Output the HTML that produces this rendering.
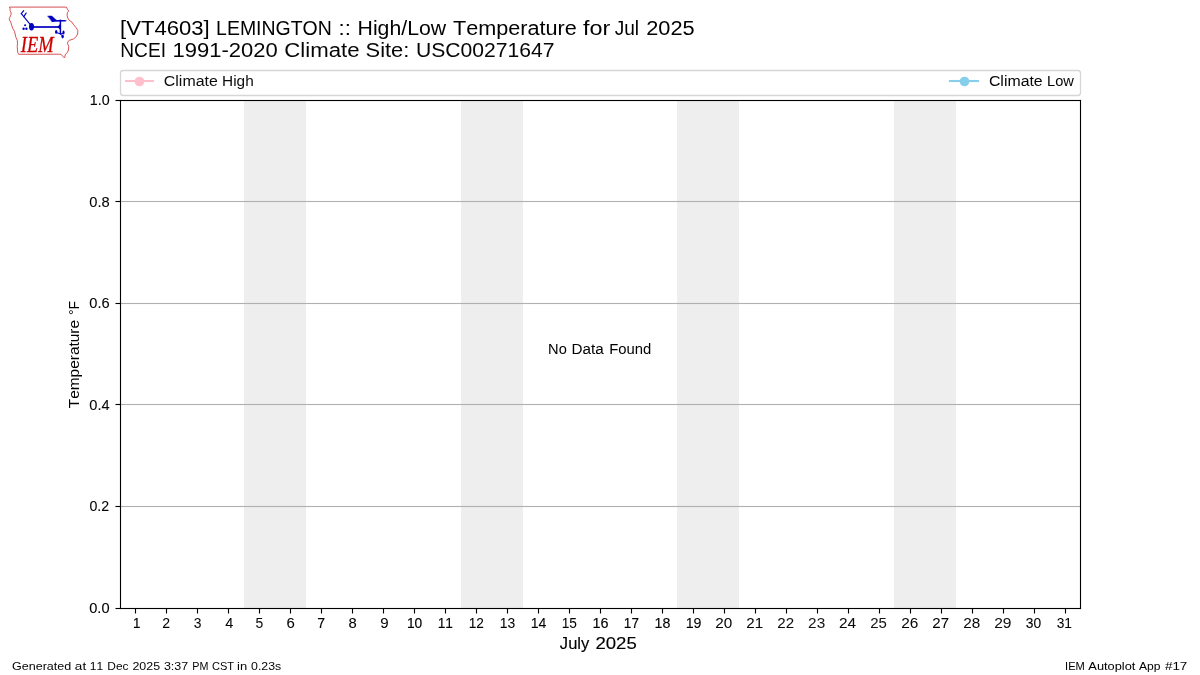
<!DOCTYPE html>
<html lang="en"><head><meta charset="utf-8"><title>[VT4603] LEMINGTON :: High/Low Temperature for Jul 2025</title>
<style>
html,body{margin:0;padding:0;background:#fff}
body{width:1200px;height:675px;position:relative;overflow:hidden;font-family:"Liberation Sans",sans-serif;color:#000}
svg{position:absolute;left:0;top:0}
#labels{position:absolute;left:0;top:0;width:1200px;height:675px;will-change:transform}
.t{position:absolute;left:0;top:0;white-space:pre;line-height:1;font-kerning:none;color:#000;transform-origin:0 0}
.t span{display:inline-block;white-space:pre;transform-origin:0 0}
#iem{position:absolute;white-space:pre;line-height:1;transform-origin:0 0;font-family:"Liberation Serif",serif;font-style:italic;color:#cc0000}
</style></head><body>
<svg width="1200" height="675" viewBox="0 0 1200 675">
<rect x="244" y="100.5" width="62" height="508" fill="#eeeeee"/>
<rect x="461" y="100.5" width="62" height="508" fill="#eeeeee"/>
<rect x="677" y="100.5" width="62" height="508" fill="#eeeeee"/>
<rect x="894" y="100.5" width="62" height="508" fill="#eeeeee"/>
<rect x="120.5" y="200.945" width="960" height="1.11" fill="#b0b0b0"/>
<rect x="120.5" y="302.945" width="960" height="1.11" fill="#b0b0b0"/>
<rect x="120.5" y="403.945" width="960" height="1.11" fill="#b0b0b0"/>
<rect x="120.5" y="505.945" width="960" height="1.11" fill="#b0b0b0"/>
<rect x="119.95" y="99.945" width="961.10" height="1.11" fill="#000"/>
<rect x="119.95" y="607.945" width="961.10" height="1.11" fill="#000"/>
<rect x="119.945" y="99.95" width="1.11" height="509.10" fill="#000"/>
<rect x="1079.945" y="99.95" width="1.11" height="509.10" fill="#000"/>
<rect x="134.945" y="608.50" width="1.11" height="5.00" fill="#000"/>
<rect x="165.945" y="608.50" width="1.11" height="5.00" fill="#000"/>
<rect x="196.945" y="608.50" width="1.11" height="5.00" fill="#000"/>
<rect x="227.945" y="608.50" width="1.11" height="5.00" fill="#000"/>
<rect x="258.945" y="608.50" width="1.11" height="5.00" fill="#000"/>
<rect x="289.945" y="608.50" width="1.11" height="5.00" fill="#000"/>
<rect x="320.945" y="608.50" width="1.11" height="5.00" fill="#000"/>
<rect x="351.945" y="608.50" width="1.11" height="5.00" fill="#000"/>
<rect x="382.945" y="608.50" width="1.11" height="5.00" fill="#000"/>
<rect x="413.945" y="608.50" width="1.11" height="5.00" fill="#000"/>
<rect x="444.945" y="608.50" width="1.11" height="5.00" fill="#000"/>
<rect x="475.945" y="608.50" width="1.11" height="5.00" fill="#000"/>
<rect x="506.945" y="608.50" width="1.11" height="5.00" fill="#000"/>
<rect x="537.945" y="608.50" width="1.11" height="5.00" fill="#000"/>
<rect x="568.945" y="608.50" width="1.11" height="5.00" fill="#000"/>
<rect x="599.945" y="608.50" width="1.11" height="5.00" fill="#000"/>
<rect x="630.945" y="608.50" width="1.11" height="5.00" fill="#000"/>
<rect x="661.945" y="608.50" width="1.11" height="5.00" fill="#000"/>
<rect x="692.945" y="608.50" width="1.11" height="5.00" fill="#000"/>
<rect x="723.945" y="608.50" width="1.11" height="5.00" fill="#000"/>
<rect x="754.945" y="608.50" width="1.11" height="5.00" fill="#000"/>
<rect x="785.945" y="608.50" width="1.11" height="5.00" fill="#000"/>
<rect x="816.945" y="608.50" width="1.11" height="5.00" fill="#000"/>
<rect x="847.945" y="608.50" width="1.11" height="5.00" fill="#000"/>
<rect x="878.945" y="608.50" width="1.11" height="5.00" fill="#000"/>
<rect x="909.945" y="608.50" width="1.11" height="5.00" fill="#000"/>
<rect x="940.945" y="608.50" width="1.11" height="5.00" fill="#000"/>
<rect x="971.945" y="608.50" width="1.11" height="5.00" fill="#000"/>
<rect x="1002.945" y="608.50" width="1.11" height="5.00" fill="#000"/>
<rect x="1033.945" y="608.50" width="1.11" height="5.00" fill="#000"/>
<rect x="1064.945" y="608.50" width="1.11" height="5.00" fill="#000"/>
<rect x="115.50" y="99.945" width="5.00" height="1.11" fill="#000"/>
<rect x="115.50" y="200.945" width="5.00" height="1.11" fill="#000"/>
<rect x="115.50" y="302.945" width="5.00" height="1.11" fill="#000"/>
<rect x="115.50" y="403.945" width="5.00" height="1.11" fill="#000"/>
<rect x="115.50" y="505.945" width="5.00" height="1.11" fill="#000"/>
<rect x="115.50" y="607.945" width="5.00" height="1.11" fill="#000"/>
<rect x="120.5" y="70.5" width="960" height="25" rx="2.8" ry="2.8" fill="#fff" fill-opacity="0.8" stroke="#d6d6d6" stroke-width="1.3"/>
<rect x="124.96" y="79.96" width="29.08" height="2.08" fill="#ffc0cb"/><circle cx="139.5" cy="81.5" r="4.85" fill="#ffc0cb"/>
<rect x="948.96" y="79.96" width="30.08" height="2.08" fill="#87ceeb"/><circle cx="964.5" cy="81.5" r="4.85" fill="#87ceeb"/>
<g id="logo" fill="none" stroke-linejoin="round" stroke-linecap="round">
<path d="M9.8 7.1 L66.4 7.1 L67.3 9.1 L68.7 10.9 L67.4 12.7 L67.1 15.3 L67.8 18 L69.1 20.2 L71.8 22 L73.6 24.7 L76.2 27.8 L77.9 30.6 L77.6 34 L76.2 36.7 L73.6 38.9 L69.6 40.3 L67.8 41.6 L67.6 43.8 L68.8 46.4 L68.5 50 L67.3 52.7 L65.3 54.4 L64.8 57.5 L63.9 57.6 L61.1 54.4 L59.8 54.2 L18.7 54.3 L17.8 52.7 L17.5 50 L17.2 46.4 L17.5 43.8 L17.3 40.2 L16 37.6 L15.1 34 L14.5 31.3 L12.9 28.7 L11.6 25.1 L10.7 22 L9.5 20.2 L9.3 18.4 L10.4 16.2 L11.1 14.4 L10.9 11.8 L10.0 10.9 L10.2 9.6 Z" stroke="#d5484c" stroke-width="0.95"/>
<g stroke="#0000c0" fill="#0000c0">
<path d="M21.3 13.7 L30.3 24.6" stroke-width="1.1"/>
<path d="M21.3 13.7 L23.7 10.6 M23.8 16.6 L26.1 13.1" stroke-width="1.15"/>
<ellipse cx="31.5" cy="26.8" rx="2.5" ry="3.7" stroke="none"/>
<path d="M33 27 L60.4 27" stroke-width="1.7" stroke-linecap="butt"/>
<path d="M57.2 27 L60.4 23.8 L60.4 29.8 Z" stroke="none"/>
<path d="M60.4 19.6 L60.4 34.4" stroke-width="1.5" stroke-linecap="butt"/>
<path d="M51.5 20 L65 20.1 L67 20.9 L65 21.6 L51.8 21.8 Z" stroke="none"/>
<path d="M47.8 16 L51.8 15.9 L56.8 20.4 L52.2 21.7 Z" stroke-width="0.4"/>
<circle cx="25.1" cy="25.3" r="1.05" stroke="none"/><circle cx="23.6" cy="28.8" r="1.2" stroke="none"/><circle cx="26.4" cy="28.8" r="1.2" stroke="none"/>
<ellipse cx="56.2" cy="31.9" rx="1.25" ry="1.9" stroke="none"/>
<ellipse cx="63.5" cy="32.4" rx="1.1" ry="2" stroke="none"/>
<ellipse cx="62.6" cy="36.6" rx="1.25" ry="1.8" stroke="none"/>
<path d="M56.9 32.7 L60.7 33.9 L63.2 33.6 M60.5 34 L62.5 36" stroke-width="1"/>
</g>
</g>

</svg>
<div id="labels">
<div id="iem" style="left:20px;top:32px;font-size:24px;-webkit-text-stroke:0.3px #cc0000;transform:translateX(0.8px) scaleX(0.768)">IEM</div>

<div class="t" id="title1" style="left:119px;top:19px;font-size:19.81px"><span style="transform:translateX(1.04px) scaleX(1.1165)">[VT4603] </span><span style="transform:translateX(11.07px) scaleX(0.9834)">LEMINGTON </span><span style="transform:translateX(10.52px) scaleX(1.1262)">:: </span><span style="transform:translateX(12.56px) scaleX(1.0725)">High/Low </span><span style="transform:translateX(19.91px) scaleX(1.0930)">Temperature </span><span style="transform:translateX(32.02px) scaleX(1.1804)">for </span><span style="transform:translateX(34.72px) scaleX(0.9632)">Jul </span><span style="transform:translateX(35.17px) scaleX(1.1001)">2025</span></div>
<div class="t" id="title2" style="left:119px;top:41px;font-size:19.81px;color:#060606"><span style="transform:translateX(1.26px) scaleX(0.9669)">NCEI </span><span style="transform:translateX(0.61px) scaleX(1.1109)">1991-2020 </span><span style="transform:translateX(12.30px) scaleX(1.1215)">Climate </span><span style="transform:translateX(20.56px) scaleX(1.1052)">Site: </span><span style="transform:translateX(25.94px) scaleX(1.0662)">USC00271647</span></div>
<div class="t" id="legH" style="left:162px;top:74px;font-size:14.15px;color:#0d0d0d"><span style="transform:translateX(1.84px) scaleX(1.1258)">Climate </span><span style="transform:translateX(8.08px) scaleX(1.0879)">High</span></div>
<div class="t" id="legL" style="left:987px;top:74px;font-size:14.15px;color:#050505"><span style="transform:translateX(1.90px) scaleX(1.1223)">Climate </span><span style="transform:translateX(8.05px) scaleX(1.0345)">Low</span></div>
<div class="t" id="gen" style="left:10px;top:661px;font-size:11.32px;color:#050505"><span style="transform:translateX(1.99px) scaleX(1.1092)">Generated </span><span style="transform:translateX(7.87px) scaleX(1.1955)">at </span><span style="transform:translateX(10.81px) scaleX(1.0687)">11 </span><span style="transform:translateX(12.31px) scaleX(1.0553)">Dec </span><span style="transform:translateX(14.45px) scaleX(1.0955)">2025 </span><span style="transform:translateX(16.88px) scaleX(1.1069)">3:37 </span><span style="transform:translateX(20.34px) scaleX(0.9494)">PM </span><span style="transform:translateX(20.02px) scaleX(0.9770)">CST </span><span style="transform:translateX(19.12px) scaleX(1.1487)">in </span><span style="transform:translateX(21.05px) scaleX(1.0915)">0.23s</span></div>
<div class="t" id="app" style="left:1064px;top:661px;font-size:11.32px;-webkit-text-stroke:0.017px #000000"><span style="transform:translateX(1.07px) scaleX(0.9804)">IEM </span><span style="transform:translateX(1.36px) scaleX(1.1335)">Autoplot </span><span style="transform:translateX(6.99px) scaleX(1.0708)">App </span><span style="transform:translateX(9.95px) scaleX(1.1858)">#17</span></div>
<div class="t" id="nodata" style="left:547px;top:342px;font-size:14.15px;-webkit-text-stroke:0.013px #000000"><span style="transform:translateX(1.08px) scaleX(1.0346)">No </span><span style="transform:translateX(2.43px) scaleX(1.0786)">Data </span><span style="transform:translateX(6.23px) scaleX(1.0495)">Found</span></div>
<div class="t" id="xlabel" style="left:558px;top:635px;font-size:16.98px;-webkit-text-stroke:0.142px #020202;color:#020202"><span style="transform:translateX(1.87px) scaleX(0.9757)">July </span><span style="transform:translateX(2.39px) scaleX(1.0947)">2025</span></div>
<div class="t" id="ylabel" style="left:67px;top:410px;transform:rotate(-90deg);font-size:14.15px"><span style="transform:translateX(1.77px) scaleX(1.0905)">Temperature </span><span style="transform:translateX(9.99px) scaleX(0.9956)">°F</span></div>
<div class="t" id="xt1" style="left:131px;top:616px;font-size:14.15px;-webkit-text-stroke:0.171px #000000"><span style="transform:translateX(1.95px) scaleX(0.9382)">1</span></div>
<div class="t" id="xt2" style="left:161px;top:616px;font-size:14.15px;-webkit-text-stroke:0.041px #020202;color:#020202"><span style="transform:translateX(1.22px) scaleX(0.9943)">2</span></div>
<div class="t" id="xt3" style="left:192px;top:616px;font-size:14.15px;-webkit-text-stroke:0.03px #080808;color:#080808"><span style="transform:translateX(1.70px) scaleX(0.9791)">3</span></div>
<div class="t" id="xt4" style="left:223px;top:616px;font-size:14.15px;-webkit-text-stroke:0.003px #000000"><span style="transform:translateX(2.27px) scaleX(1.0250)">4</span></div>
<div class="t" id="xt5" style="left:254px;top:616px;font-size:14.15px;-webkit-text-stroke:0.03px #090909;color:#090909"><span style="transform:translateX(1.40px) scaleX(0.9835)">5</span></div>
<div class="t" id="xt6" style="left:285px;top:616px;font-size:14.15px;-webkit-text-stroke:0.065px #000000"><span style="transform:translateX(1.40px) scaleX(1.0555)">6</span></div>
<div class="t" id="xt7" style="left:316px;top:616px;font-size:14.15px;-webkit-text-stroke:0.127px #060606;color:#060606"><span style="transform:translateX(1.32px) scaleX(1.0020)">7</span></div>
<div class="t" id="xt8" style="left:347px;top:616px;font-size:14.15px;-webkit-text-stroke:0.077px #000000"><span style="transform:translateX(1.41px) scaleX(1.0425)">8</span></div>
<div class="t" id="xt9" style="left:379px;top:616px;font-size:14.15px;-webkit-text-stroke:0.03px #060606;color:#060606"><span style="transform:translateX(1.36px) scaleX(1.0683)">9</span></div>
<div class="t" id="xt10" style="left:405px;top:616px;font-size:14.15px;-webkit-text-stroke:0.165px #000000"><span style="transform:translateX(1.90px) scaleX(0.9744)">10</span></div>
<div class="t" id="xt11" style="left:436px;top:616px;font-size:14.15px;-webkit-text-stroke:0.087px #000000"><span style="transform:translateX(1.71px) scaleX(0.9737)">11</span></div>
<div class="t" id="xt12" style="left:467px;top:616px;font-size:14.15px;-webkit-text-stroke:0.062px #020202;color:#020202"><span style="transform:translateX(1.75px) scaleX(0.9651)">12</span></div>
<div class="t" id="xt13" style="left:498px;top:616px;font-size:14.15px;-webkit-text-stroke:0.037px #000000"><span style="transform:translateX(1.66px) scaleX(0.9838)">13</span></div>
<div class="t" id="xt14" style="left:529px;top:616px;font-size:14.15px;-webkit-text-stroke:0.053px #000000"><span style="transform:translateX(1.66px) scaleX(0.9962)">14</span></div>
<div class="t" id="xt15" style="left:560px;top:616px;font-size:14.15px;-webkit-text-stroke:0.034px #020202;color:#020202"><span style="transform:translateX(1.71px) scaleX(0.9702)">15</span></div>
<div class="t" id="xt16" style="left:591px;top:616px;font-size:14.15px;-webkit-text-stroke:0.149px #000000"><span style="transform:translateX(1.50px) scaleX(1.0179)">16</span></div>
<div class="t" id="xt17" style="left:622px;top:616px;font-size:14.15px;-webkit-text-stroke:0.14px #000000"><span style="transform:translateX(1.87px) scaleX(0.9596)">17</span></div>
<div class="t" id="xt18" style="left:653px;top:616px;font-size:14.15px;-webkit-text-stroke:0.101px #000000"><span style="transform:translateX(1.62px) scaleX(1.0077)">18</span></div>
<div class="t" id="xt19" style="left:684px;top:616px;font-size:14.15px;-webkit-text-stroke:0.069px #000000"><span style="transform:translateX(1.63px) scaleX(1.0070)">19</span></div>
<div class="t" id="xt20" style="left:714px;top:616px;font-size:14.15px;-webkit-text-stroke:0.03px #080808;color:#080808"><span style="transform:translateX(1.19px) scaleX(1.0815)">20</span></div>
<div class="t" id="xt21" style="left:745px;top:616px;font-size:14.15px;-webkit-text-stroke:0.03px #070707;color:#070707"><span style="transform:translateX(1.29px) scaleX(1.0717)">21</span></div>
<div class="t" id="xt22" style="left:776px;top:616px;font-size:14.15px;-webkit-text-stroke:0.03px #0b0b0b;color:#0b0b0b"><span style="transform:translateX(1.28px) scaleX(1.0687)">22</span></div>
<div class="t" id="xt23" style="left:807px;top:616px;font-size:14.15px;-webkit-text-stroke:0.03px #171717;color:#171717"><span style="transform:translateX(1.12px) scaleX(1.0821)">23</span></div>
<div class="t" id="xt24" style="left:838px;top:616px;font-size:14.15px;-webkit-text-stroke:0.03px #0a0a0a;color:#0a0a0a"><span style="transform:translateX(1.07px) scaleX(1.0874)">24</span></div>
<div class="t" id="xt25" style="left:869px;top:616px;font-size:14.15px;-webkit-text-stroke:0.03px #151515;color:#151515"><span style="transform:translateX(1.29px) scaleX(1.0579)">25</span></div>
<div class="t" id="xt26" style="left:900px;top:616px;font-size:14.15px;-webkit-text-stroke:0.03px #070707;color:#070707"><span style="transform:translateX(1.30px) scaleX(1.0866)">26</span></div>
<div class="t" id="xt27" style="left:931px;top:616px;font-size:14.15px;-webkit-text-stroke:0.035px #000000"><span style="transform:translateX(1.36px) scaleX(1.0617)">27</span></div>
<div class="t" id="xt28" style="left:962px;top:616px;font-size:14.15px;-webkit-text-stroke:0.03px #0a0a0a;color:#0a0a0a"><span style="transform:translateX(1.30px) scaleX(1.0793)">28</span></div>
<div class="t" id="xt29" style="left:993px;top:616px;font-size:14.15px;-webkit-text-stroke:0.03px #0f0f0f;color:#0f0f0f"><span style="transform:translateX(1.18px) scaleX(1.1028)">29</span></div>
<div class="t" id="xt30" style="left:1024px;top:616px;font-size:14.15px;-webkit-text-stroke:0.063px #000000"><span style="transform:translateX(1.71px) scaleX(0.9779)">30</span></div>
<div class="t" id="xt31" style="left:1055px;top:616px;font-size:14.15px;-webkit-text-stroke:0.025px #000000"><span style="transform:translateX(1.65px) scaleX(0.9748)">31</span></div>
<div class="t" id="yt0" style="left:87px;top:601px;font-size:14.15px;-webkit-text-stroke:0.113px #000000"><span style="transform:translateX(2.22px) scaleX(1.0319)">0.0</span></div>
<div class="t" id="yt1" style="left:87px;top:499px;font-size:14.15px;-webkit-text-stroke:0.08px #050505;color:#050505"><span style="transform:translateX(2.40px) scaleX(1.0036)">0.2</span></div>
<div class="t" id="yt2" style="left:87px;top:398px;font-size:14.15px;-webkit-text-stroke:0.08px #080808;color:#080808"><span style="transform:translateX(2.31px) scaleX(1.0352)">0.4</span></div>
<div class="t" id="yt3" style="left:87px;top:296px;font-size:14.15px;-webkit-text-stroke:0.086px #000000"><span style="transform:translateX(2.34px) scaleX(1.0345)">0.6</span></div>
<div class="t" id="yt4" style="left:87px;top:195px;font-size:14.15px;-webkit-text-stroke:0.08px #050505;color:#050505"><span style="transform:translateX(2.24px) scaleX(1.0378)">0.8</span></div>
<div class="t" id="yt5" style="left:88px;top:93px;font-size:14.15px;-webkit-text-stroke:0.096px #000000"><span style="transform:translateX(1.79px) scaleX(1.0097)">1.0</span></div>
</div>
</body></html>
